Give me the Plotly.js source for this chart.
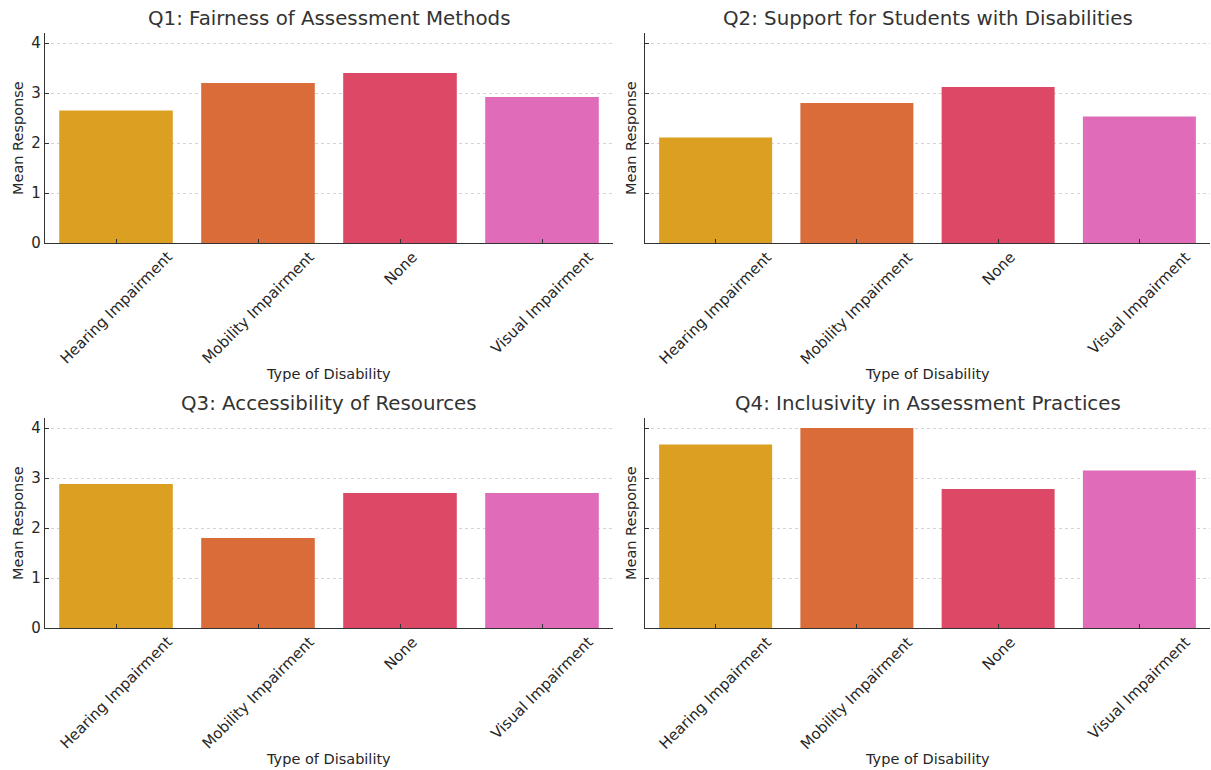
<!DOCTYPE html>
<html><head><meta charset="utf-8">
<script src="https://cdn.plot.ly/plotly-3.0.1.min.js"></script>
<style>html,body{margin:0;padding:0;background:#fff}</style>
</head><body><div id="chart" style="width:1211px;height:770px"></div>
<script>
const categories = ["Hearing Impairment", "Mobility Impairment", "None", "Visual Impairment"];
const q1Values = [2.65, 3.2, 3.4, 2.92];
const q2Values = [2.11, 2.8, 3.12, 2.53];
const q3Values = [2.88, 1.8, 2.7, 2.7];
const q4Values = [3.67, 4.0, 2.78, 3.15];
const panelTitles = ["Q1: Fairness of Assessment Methods", "Q2: Support for Students with Disabilities", "Q3: Accessibility of Resources", "Q4: Inclusivity in Assessment Practices"];
const barColors = ["#DBA022", "#D96C39", "#DC4865", "#E06BB9"];
const yTickValues = [0, 1, 2, 3, 4];
const xAxisTitle = "Type of Disability";
const yAxisTitle = "Mean Response";

const W = 1211, H = 770;
const FONT = "DejaVu Sans, sans-serif";
const px = v => v / W;
const py = v => 1 - v / H;

const panels = [
  {vals: q1Values, xd: [45, 613], yd: [33, 243], left: true},
  {vals: q2Values, xd: [645, 1210], yd: [33, 243], left: false},
  {vals: q3Values, xd: [45, 613], yd: [418, 628], left: true},
  {vals: q4Values, xd: [645, 1210], yd: [418, 628], left: false}
];

const data = [];
const layout = {
  width: W, height: H,
  margin: {l: 0, r: 0, t: 0, b: 0},
  paper_bgcolor: "#fff", plot_bgcolor: "#fff",
  showlegend: false,
  font: {family: FONT, color: "#262626"},
  annotations: []
};

panels.forEach((p, i) => {
  const n = i === 0 ? "" : String(i + 1);
  const xa = "x" + n, ya = "y" + n;
  data.push({
    type: "bar", x: categories, y: p.vals, xaxis: xa, yaxis: ya,
    width: 0.8, marker: {color: barColors, line: {width: 0}}, hoverinfo: "skip"
  });
  layout["xaxis" + n] = {
    domain: [px(p.xd[0]), px(p.xd[1])], anchor: ya, type: "category",
    range: [-0.5, 3.5], showline: true, linecolor: "#333", linewidth: 1.2,
    ticks: "inside", ticklen: 4, tickcolor: "#333", showticklabels: false,
    showgrid: false, zeroline: false, fixedrange: true
  };
  layout["yaxis" + n] = {
    domain: [py(p.yd[1]), py(p.yd[0])], anchor: xa, range: [0, 4.2],
    tickvals: yTickValues, showticklabels: p.left, ticks: "inside", ticklen: 4,
    tickcolor: "#333", tickfont: {size: 15, color: "#262626", family: FONT},
    showline: true, linecolor: "#333", linewidth: 1.2,
    showgrid: true, gridcolor: "#d4d4d4", griddash: "dot", gridwidth: 1,
    zeroline: false, fixedrange: true
  };
  const cx = (p.xd[0] + p.xd[1]) / 2;
  layout.annotations.push({
    text: panelTitles[i], xref: "paper", yref: "paper", x: px(cx), y: py(p.yd[0] - 14),
    xanchor: "center", yanchor: "middle", showarrow: false,
    font: {size: 19.8, color: "#333", family: FONT}
  });
  layout.annotations.push({
    text: yAxisTitle, xref: "paper", yref: "paper",
    x: px(p.xd[0] - (p.left ? 27 : 14)), y: py((p.yd[0] + p.yd[1]) / 2),
    xanchor: "center", yanchor: "middle", textangle: -90, showarrow: false,
    font: {size: 14.5, color: "#262626", family: FONT}
  });
  layout.annotations.push({
    text: xAxisTitle, xref: "paper", yref: "paper", x: px(cx), y: py(p.yd[1] + 131),
    xanchor: "center", yanchor: "middle", showarrow: false,
    font: {size: 14.5, color: "#262626", family: FONT}
  });
  categories.forEach(c => {
    layout.annotations.push({
      text: c, xref: xa, yref: "paper", x: c, y: py(p.yd[1] + 4),
      xanchor: "center", yanchor: "top", textangle: -45, showarrow: false,
      borderpad: 0, font: {size: 15, color: "#262626", family: FONT}
    });
  });
});

Plotly.newPlot("chart", data, layout, {staticPlot: true, displayModeBar: false});
</script>
</body></html>
